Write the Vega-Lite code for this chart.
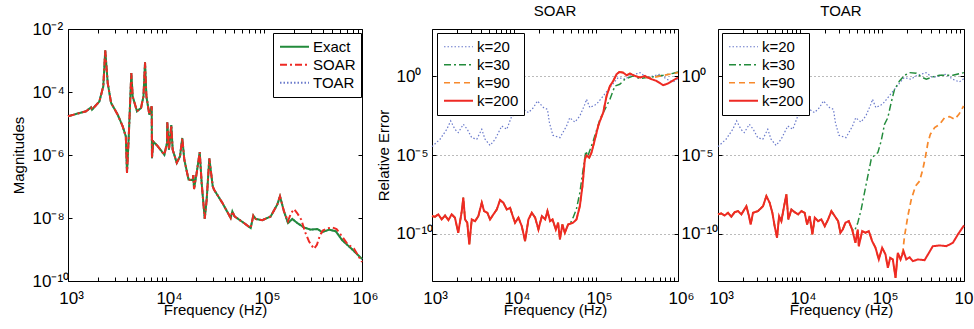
{
"$schema": "https://vega.github.io/schema/vega-lite/v6.json",
"background": "white",
"padding": {"left": 11, "top": 3, "right": 5, "bottom": 5},
"config": {
 "font": "Liberation Sans",
 "view": {"stroke": null},
 "axis": {"labelFont": "Liberation Sans", "labelFontSize": 17, "labelColor": "#000", "titleFont": "Liberation Sans", "titleFontSize": 15, "titleFontWeight": "normal", "titleColor": "#000", "tickColor": "#000", "domainColor": "#000", "domainWidth": 1, "tickWidth": 1, "grid": false},
 "legend": {"labelFont": "Liberation Sans", "labelFontSize": 15, "labelColor": "#000", "strokeColor": "#000", "fillColor": "#fff", "padding": 5, "symbolType": "stroke", "symbolSize": 841, "clipHeight": 17.5, "rowPadding": 0, "symbolOffset": 1, "labelOffset": 3},
 "title": {"font": "Liberation Sans", "fontSize": 15, "fontWeight": "normal", "color": "#000"}
},
"datasets": {
 "mag": [
  {"f":1000,"Exact":1.7e-5,"SOAR":1.7e-5,"TOAR":1.7e-5},
  {"f":1528,"Exact":2.45e-5,"SOAR":2.45e-5,"TOAR":2.45e-5},
  {"f":1718,"Exact":3.24e-5,"SOAR":3.24e-5,"TOAR":3.24e-5},
  {"f":1758,"Exact":2.75e-5,"SOAR":2.75e-5,"TOAR":2.75e-5},
  {"f":2089,"Exact":5.01e-5,"SOAR":5.01e-5,"TOAR":5.01e-5},
  {"f":2291,"Exact":1.51e-4,"SOAR":1.51e-4,"TOAR":1.51e-4},
  {"f":2399,"Exact":2.09e-3,"SOAR":2.09e-3,"TOAR":2.09e-3},
  {"f":2541,"Exact":1.95e-4,"SOAR":1.95e-4,"TOAR":1.95e-4},
  {"f":2754,"Exact":4.47e-5,"SOAR":4.47e-5,"TOAR":4.47e-5},
  {"f":3214,"Exact":1.91e-5,"SOAR":1.91e-5,"TOAR":1.91e-5},
  {"f":3614,"Exact":8.13e-6,"SOAR":8.13e-6,"TOAR":8.13e-6},
  {"f":3890,"Exact":3.89e-6,"SOAR":3.89e-6,"TOAR":3.89e-6},
  {"f":4000,"Exact":2.69e-7,"SOAR":2.69e-7,"TOAR":2.69e-7},
  {"f":4169,"Exact":3.89e-6,"SOAR":3.89e-6,"TOAR":3.89e-6},
  {"f":4426,"Exact":3.98e-4,"SOAR":3.98e-4,"TOAR":3.98e-4},
  {"f":4571,"Exact":7.24e-5,"SOAR":7.24e-5,"TOAR":7.24e-5},
  {"f":5058,"Exact":2.45e-5,"SOAR":2.45e-5,"TOAR":2.45e-5},
  {"f":5559,"Exact":3.09e-5,"SOAR":3.09e-5,"TOAR":3.09e-5},
  {"f":5888,"Exact":7.24e-5,"SOAR":7.24e-5,"TOAR":7.24e-5},
  {"f":6109,"Exact":8.71e-4,"SOAR":8.71e-4,"TOAR":8.71e-4},
  {"f":6310,"Exact":7.24e-5,"SOAR":7.24e-5,"TOAR":7.24e-5},
  {"f":6761,"Exact":1.91e-5,"SOAR":1.91e-5,"TOAR":1.91e-5},
  {"f":7145,"Exact":3.55e-5,"SOAR":3.55e-5,"TOAR":3.55e-5},
  {"f":7194,"Exact":7.94e-7,"SOAR":7.94e-7,"TOAR":7.94e-7},
  {"f":7413,"Exact":2.69e-6,"SOAR":2.69e-6,"TOAR":2.69e-6},
  {"f":8222,"Exact":1.91e-6,"SOAR":1.91e-6,"TOAR":1.91e-6},
  {"f":9616,"Exact":1.02e-6,"SOAR":1.02e-6,"TOAR":1.02e-6},
  {"f":10233,"Exact":2.4e-6,"SOAR":2.4e-6,"TOAR":2.4e-6},
  {"f":10304,"Exact":1.1e-5,"SOAR":1.1e-5,"TOAR":1.1e-5},
  {"f":10715,"Exact":1.48e-6,"SOAR":1.48e-6,"TOAR":1.48e-6},
  {"f":11324,"Exact":8.91e-6,"SOAR":8.91e-6,"TOAR":8.91e-6},
  {"f":11695,"Exact":1.48e-6,"SOAR":1.48e-6,"TOAR":1.48e-6},
  {"f":12882,"Exact":5.62e-7,"SOAR":5.62e-7,"TOAR":5.62e-7},
  {"f":13900,"Exact":9.12e-7,"SOAR":9.12e-7,"TOAR":9.12e-7},
  {"f":14655,"Exact":3.47e-6,"SOAR":3.47e-6,"TOAR":3.47e-6},
  {"f":15382,"Exact":7.08e-7,"SOAR":7.08e-7,"TOAR":7.08e-7},
  {"f":16982,"Exact":1.66e-7,"SOAR":1.66e-7,"TOAR":1.66e-7},
  {"f":18707,"Exact":1.58e-7,"SOAR":1.58e-7,"TOAR":1.58e-7},
  {"f":19011,"Exact":2.29e-7,"SOAR":2.29e-7,"TOAR":2.29e-7},
  {"f":19320,"Exact":8.32e-8,"SOAR":8.32e-8,"TOAR":8.32e-8},
  {"f":20559,"Exact":2.69e-7,"SOAR":2.69e-7,"TOAR":2.69e-7},
  {"f":22080,"Exact":1.23e-6,"SOAR":1.23e-6,"TOAR":1.23e-6},
  {"f":23121,"Exact":1.29e-7,"SOAR":1.29e-7,"TOAR":1.29e-7},
  {"f":24831,"Exact":9.55e-9,"SOAR":9.55e-9,"TOAR":9.55e-9},
  {"f":26002,"Exact":3.8e-8,"SOAR":3.8e-8,"TOAR":3.8e-8},
  {"f":27669,"Exact":7.76e-7,"SOAR":7.76e-7,"TOAR":7.76e-7},
  {"f":29992,"Exact":1.02e-7,"SOAR":1.02e-7,"TOAR":1.02e-7},
  {"f":30903,"Exact":7.94e-8,"SOAR":7.94e-8,"TOAR":7.94e-8},
  {"f":37584,"Exact":3.02e-8,"SOAR":3.02e-8,"TOAR":3.02e-8},
  {"f":45709,"Exact":1.0e-8,"SOAR":1.0e-8,"TOAR":1.0e-8},
  {"f":47534,"Exact":1.62e-8,"SOAR":1.62e-8,"TOAR":1.62e-8},
  {"f":50119,"Exact":1.12e-8,"SOAR":1.12e-8,"TOAR":1.12e-8},
  {"f":62517,"Exact":6.92e-9,"SOAR":6.92e-9,"TOAR":6.92e-9},
  {"f":73114,"Exact":4.79e-9,"SOAR":4.79e-9,"TOAR":4.79e-9},
  {"f":77804,"Exact":1.2e-8,"SOAR":1.2e-8,"TOAR":1.2e-8},
  {"f":82224,"Exact":9.33e-9,"SOAR":9.33e-9,"TOAR":9.33e-9},
  {"f":96161,"Exact":8.51e-9,"SOAR":8.51e-9,"TOAR":8.51e-9},
  {"f":116950,"Exact":1.12e-8,"SOAR":1.12e-8,"TOAR":1.12e-8},
  {"f":136770,"Exact":2.69e-8,"SOAR":2.69e-8,"TOAR":2.69e-8},
  {"f":145550,"Exact":4.9e-8,"SOAR":4.9e-8,"TOAR":4.9e-8},
  {"f":159950,"Exact":1.62e-8,"SOAR":1.62e-8,"TOAR":1.62e-8},
  {"f":175790,"Exact":6.92e-9,"SOAR":7.94e-9,"TOAR":6.92e-9},
  {"f":194540,"Exact":9.33e-9,"TOAR":9.33e-9},
  {"f":218780,"Exact":6.92e-9,"SOAR":1.41e-8,"TOAR":6.92e-9},
  {"f":255860,"Exact":5.01e-9,"TOAR":5.01e-9},
  {"f":299230,"Exact":4.27e-9,"TOAR":4.27e-9},
  {"f":349940,"Exact":4.47e-9,"TOAR":4.47e-9},
  {"f":393550,"Exact":3.55e-9,"TOAR":3.55e-9},
  {"f":460260,"Exact":4.27e-9,"TOAR":4.27e-9},
  {"f":539510,"Exact":3.8e-9,"TOAR":3.8e-9},
  {"f":629500,"Exact":1.95e-9,"TOAR":1.95e-9},
  {"f":767360,"Exact":1.12e-9,"TOAR":1.12e-9},
  {"f":1000000,"Exact":5.01e-10,"SOAR":3.98e-10,"TOAR":5.01e-10},
  {"f":188360,"SOAR":1.41e-8},
  {"f":202300,"SOAR":1.91e-8},
  {"f":239880,"SOAR":8.91e-9},
  {"f":263030,"SOAR":3.55e-9},
  {"f":288400,"SOAR":1.78e-9},
  {"f":323590,"SOAR":1.05e-9},
  {"f":346740,"SOAR":1.41e-9},
  {"f":372400,"SOAR":2.82e-9},
  {"f":398110,"SOAR":3.98e-9},
  {"f":436520,"SOAR":4.68e-9},
  {"f":501190,"SOAR":5.01e-9},
  {"f":549540,"SOAR":4.47e-9},
  {"f":630960,"SOAR":2.51e-9},
  {"f":707950,"SOAR":1.51e-9},
  {"f":831760,"SOAR":1.05e-9}
 ],
 "soar": [
  {"f":1000,"k=20":3.39e-5},{"f":1253,"k=20":1.0e-4},{"f":1514,"k=20":4.27e-4},{"f":1690,"k=20":1.45e-3},
  {"f":1905,"k=20":4.27e-4},{"f":2089,"k=20":2.63e-4},{"f":2410,"k=20":8.91e-4},{"f":2692,"k=20":4.27e-4},
  {"f":3055,"k=20":1.26e-4},{"f":3516,"k=20":1.0e-4},{"f":4046,"k=20":4.27e-4},{"f":4436,"k=20":1.0e-4},
  {"f":5105,"k=20":4.07e-5},{"f":5888,"k=20":1.0e-4},{"f":7096,"k=20":6.92e-4},{"f":8166,"k=20":4.27e-4},
  {"f":9397,"k=20":3.02e-3},{"f":11324,"k=20":3.8e-3},{"f":13032,"k=20":7.94e-3},{"f":14997,"k=20":4.9e-3},
  {"f":17258,"k=20":1.02e-2},{"f":19320,"k=20":2.69e-2},{"f":22909,"k=20":1.02e-2},{"f":25586,"k=20":7.94e-3},
  {"f":27040,"k=20":1.12e-3},{"f":29785,"k=20":1.78e-4},{"f":36308,"k=20":1.26e-4},{"f":43752,"k=20":6.92e-4},
  {"f":47863,"k=20":2.34e-3},{"f":55208,"k=20":1.23e-3},{"f":63533,"k=20":3.02e-3},{"f":73114,"k=20":1.66e-2},
  {"f":76560,"k=20":3.47e-2},{"f":84140,"k=20":1.02e-2},{"f":101390,"k=20":1.66e-2},{"f":122460,"k=20":5.62e-2},
  {"f":147910,"k=20":0.191},{"f":186640,"k=20":0.832},{"f":225420,"k=20":0.646},{"f":259420,"k=20":1.047},
  {"f":343560,"k=20":1.7},{"f":414000,"k=20":0.832},{"f":501190,"k=20":1.047},{"f":602560,"k=20":1.35},
  {"f":726110,"k=20":0.646},{"f":877000,"k=20":0.437},{"f":1000000,"k=20":0.708},
  {"f":1000,"k=30":1.32e-9,"k=90":1.32e-9,"k=200":1.32e-9},
  {"f":1089,"k=30":1.2e-9,"k=90":1.2e-9,"k=200":1.2e-9},
  {"f":1194,"k=30":1.7e-9,"k=90":1.7e-9,"k=200":1.7e-9},
  {"f":1312,"k=30":8.13e-10,"k=90":8.13e-10,"k=200":8.13e-10},
  {"f":1442,"k=30":1.45e-9,"k=90":1.45e-9,"k=200":1.45e-9},
  {"f":1585,"k=30":7.41e-10,"k=90":7.41e-10,"k=200":7.41e-10},
  {"f":1738,"k=30":1.7e-9,"k=90":1.7e-9,"k=200":1.7e-9},
  {"f":1905,"k=30":1.05e-9,"k=90":1.05e-9,"k=200":1.05e-9},
  {"f":2089,"k=30":1.15e-10,"k=90":1.15e-10,"k=200":1.15e-10},
  {"f":2307,"k=30":2.75e-9,"k=90":2.75e-9,"k=200":2.75e-9},
  {"f":2410,"k=30":1.95e-8,"k=90":1.95e-8,"k=200":1.95e-8},
  {"f":2529,"k=30":8.13e-10,"k=90":8.13e-10,"k=200":8.13e-10},
  {"f":2692,"k=30":5.01e-10,"k=90":5.01e-10,"k=200":5.01e-10},
  {"f":2851,"k=30":2.09e-11,"k=90":2.09e-11,"k=200":2.09e-11},
  {"f":3055,"k=30":8.13e-10,"k=90":8.13e-10,"k=200":8.13e-10},
  {"f":3350,"k=30":6.31e-10,"k=90":6.31e-10,"k=200":6.31e-10},
  {"f":3673,"k=30":1.32e-9,"k=90":1.32e-9,"k=200":1.32e-9},
  {"f":4046,"k=30":9.33e-9,"k=90":9.33e-9,"k=200":9.33e-9},
  {"f":4315,"k=30":2.75e-9,"k=90":2.75e-9,"k=200":2.75e-9},
  {"f":4732,"k=30":2.14e-9,"k=90":2.14e-9,"k=200":2.14e-9},
  {"f":5105,"k=30":8.13e-10,"k=90":8.13e-10,"k=200":8.13e-10},
  {"f":5610,"k=30":1.7e-9,"k=90":1.7e-9,"k=200":1.7e-9},
  {"f":6166,"k=30":3.47e-9,"k=90":3.47e-9,"k=200":3.47e-9},
  {"f":6761,"k=30":1.38e-8,"k=90":1.38e-8,"k=200":1.38e-8},
  {"f":7413,"k=30":9.33e-9,"k=90":9.33e-9,"k=200":9.33e-9},
  {"f":8166,"k=30":3.47e-9,"k=90":3.47e-9,"k=200":3.47e-9},
  {"f":8954,"k=30":4.47e-9,"k=90":4.47e-9,"k=200":4.47e-9},
  {"f":9661,"k=30":1.32e-9,"k=90":1.32e-9,"k=200":1.32e-9},
  {"f":10304,"k=30":5.01e-10,"k=90":5.01e-10,"k=200":5.01e-10},
  {"f":11324,"k=30":1.05e-9,"k=90":1.05e-9,"k=200":1.05e-9},
  {"f":12445,"k=30":3.02e-10,"k=90":3.02e-10,"k=200":3.02e-10},
  {"f":13646,"k=30":3.39e-11,"k=90":3.39e-11,"k=200":3.39e-11},
  {"f":14997,"k=30":8.13e-10,"k=90":8.13e-10,"k=200":8.13e-10},
  {"f":16482,"k=30":2.14e-9,"k=90":2.14e-9,"k=200":2.14e-9},
  {"f":18113,"k=30":1.05e-9,"k=90":1.05e-9,"k=200":1.05e-9},
  {"f":19861,"k=30":1.86e-10,"k=90":1.86e-10,"k=200":1.86e-10},
  {"f":21878,"k=30":1.32e-9,"k=90":1.32e-9,"k=200":1.32e-9},
  {"f":23988,"k=30":8.13e-10,"k=90":8.13e-10,"k=200":8.13e-10},
  {"f":25586,"k=30":2.75e-9,"k=90":2.75e-9,"k=200":2.75e-9},
  {"f":27542,"k=30":6.31e-10,"k=90":6.31e-10,"k=200":6.31e-10},
  {"f":29512,"k=30":8.13e-10,"k=90":8.13e-10,"k=200":8.13e-10},
  {"f":32359,"k=30":1.86e-10,"k=90":1.86e-10,"k=200":1.86e-10},
  {"f":34514,"k=30":5.01e-10,"k=90":5.01e-10,"k=200":5.01e-10},
  {"f":36308,"k=30":4.37e-11,"k=90":4.37e-11,"k=200":4.37e-11},
  {"f":38905,"k=30":3.89e-10,"k=90":3.89e-10,"k=200":3.89e-10},
  {"f":41687,"k=30":1.15e-10,"k=90":1.15e-10,"k=200":1.15e-10},
  {"f":45709,"k=30":3.89e-10,"k=90":3.89e-10,"k=200":3.89e-10},
  {"f":52481,"k=90":5.01e-10,"k=200":5.01e-10},
  {"f":57810,"k=90":8.13e-10,"k=200":8.13e-10},
  {"f":63533,"k=90":5.62e-9,"k=200":5.62e-9},
  {"f":68391,"k=90":1.07e-7,"k=200":1.07e-7},
  {"f":73114,"k=90":5.25e-6,"k=200":5.25e-6},
  {"f":76560,"k=90":9.55e-6,"k=200":9.55e-6},
  {"f":82604,"k=90":6.76e-6,"k=200":6.76e-6},
  {"f":88105,"k=90":1.41e-5,"k=200":1.41e-5},
  {"f":97051,"k=90":1.0e-4,"k=200":1.0e-4},
  {"f":106410,"k=90":6.92e-4,"k=200":6.92e-4},
  {"f":111690,"k=90":1.45e-3,"k=200":1.45e-3},
  {"f":122460,"k=90":4.9e-3,"k=200":4.9e-3},
  {"f":134590,"k=90":5.62e-2,"k=200":5.62e-2},
  {"f":147910,"k=90":0.24,"k=200":0.24},
  {"f":162180,"k=90":0.501,"k=200":0.501},
  {"f":178240,"k=90":1.35,"k=200":1.35},
  {"f":192310,"k=90":1.86,"k=200":1.86},
  {"f":214780,"k=90":1.7,"k=200":1.7},
  {"f":236050,"k=90":1.148,"k=200":1.148},
  {"f":259420,"k=90":1.48,"k=200":1.48},
  {"f":298540,"k=90":1.047,"k=200":1.047},
  {"f":343560,"k=200":0.832},
  {"f":395370,"k=200":1.047},
  {"f":454990,"k=200":0.708},
  {"f":548280,"k=200":0.501},
  {"f":660690,"k=200":0.269},
  {"f":762080,"k=200":0.355},
  {"f":918410,"k=200":0.646},
  {"f":1000000,"k=200":0.832},
  {"f":47863,"k=30":3.89e-10},{"f":52481,"k=30":1.05e-9},{"f":57544,"k=30":3.47e-9},{"f":63533,"k=30":3.98e-8},
  {"f":69663,"k=30":1.23e-6},{"f":75162,"k=30":1.78e-5},{"f":79433,"k=30":8.51e-6},{"f":92470,"k=30":7.76e-5},
  {"f":111690,"k=30":1.86e-3},{"f":128530,"k=30":7.94e-3},{"f":147910,"k=30":3.47e-2},{"f":169820,"k=30":0.24},
  {"f":194980,"k=30":0.309},{"f":225420,"k=30":0.646},{"f":284450,"k=30":1.047},{"f":343560,"k=30":0.708},
  {"f":414000,"k=30":0.832},{"f":501190,"k=30":0.912},{"f":660690,"k=30":1.148},{"f":877000,"k=30":1.55},
  {"f":1000000,"k=30":1.86},
  {"f":354810,"k=90":0.832},{"f":501190,"k=90":0.832},{"f":660690,"k=90":1.148},{"f":870960,"k=90":1.48},
  {"f":1000000,"k=90":1.7}
 ],
 "toar": [
  {"f":1000,"k=20":3.39e-5},{"f":1253,"k=20":1.0e-4},{"f":1514,"k=20":4.27e-4},{"f":1690,"k=20":1.45e-3},
  {"f":1905,"k=20":4.27e-4},{"f":2089,"k=20":2.63e-4},{"f":2410,"k=20":8.91e-4},{"f":2692,"k=20":4.27e-4},
  {"f":3055,"k=20":1.26e-4},{"f":3516,"k=20":1.0e-4},{"f":4046,"k=20":4.27e-4},{"f":4436,"k=20":1.0e-4},
  {"f":5105,"k=20":4.07e-5},{"f":5888,"k=20":1.0e-4},{"f":7096,"k=20":6.92e-4},{"f":8166,"k=20":4.27e-4},
  {"f":9397,"k=20":3.02e-3},{"f":11324,"k=20":3.8e-3},{"f":13032,"k=20":7.94e-3},{"f":14997,"k=20":4.9e-3},
  {"f":17258,"k=20":1.02e-2},{"f":19320,"k=20":2.69e-2},{"f":22909,"k=20":1.02e-2},{"f":25586,"k=20":7.94e-3},
  {"f":27040,"k=20":1.12e-3},{"f":29785,"k=20":1.78e-4},{"f":36308,"k=20":1.26e-4},{"f":43752,"k=20":6.92e-4},
  {"f":47863,"k=20":2.34e-3},{"f":55208,"k=20":1.23e-3},{"f":63533,"k=20":3.02e-3},{"f":73114,"k=20":1.66e-2},
  {"f":76560,"k=20":3.47e-2},{"f":84140,"k=20":1.02e-2},{"f":101390,"k=20":1.66e-2},{"f":122460,"k=20":5.62e-2},
  {"f":147910,"k=20":0.191},{"f":186640,"k=20":0.832},{"f":225420,"k=20":0.646},{"f":259420,"k=20":1.047},
  {"f":343560,"k=20":1.7},{"f":414000,"k=20":0.832},{"f":501190,"k=20":1.047},{"f":602560,"k=20":1.35},
  {"f":726110,"k=20":0.646},{"f":877000,"k=20":0.437},{"f":1000000,"k=20":0.708},
  {"f":1000,"k=30":1.7e-9,"k=90":1.7e-9,"k=200":1.7e-9},
  {"f":1096,"k=30":1.95e-9,"k=90":1.95e-9,"k=200":1.95e-9},
  {"f":1205,"k=30":1.45e-9,"k=90":1.45e-9,"k=200":1.45e-9},
  {"f":1324,"k=30":2.14e-9,"k=90":2.14e-9,"k=200":2.14e-9},
  {"f":1452,"k=30":1.2e-9,"k=90":1.2e-9,"k=200":1.2e-9},
  {"f":1596,"k=30":2.34e-9,"k=90":2.34e-9,"k=200":2.34e-9},
  {"f":1754,"k=30":2.75e-9,"k=90":2.75e-9,"k=200":2.75e-9},
  {"f":1928,"k=30":1.7e-9,"k=90":1.7e-9,"k=200":1.7e-9},
  {"f":2218,"k=30":5.62e-9,"k=90":5.62e-9,"k=200":5.62e-9},
  {"f":2388,"k=30":1.32e-9,"k=90":1.32e-9,"k=200":1.32e-9},
  {"f":2500,"k=30":3.89e-10,"k=90":3.89e-10,"k=200":3.89e-10},
  {"f":2673,"k=30":2.14e-9,"k=90":2.14e-9,"k=200":2.14e-9},
  {"f":3076,"k=30":2.75e-9,"k=90":2.75e-9,"k=200":2.75e-9},
  {"f":3540,"k=30":5.62e-9,"k=90":5.62e-9,"k=200":5.62e-9},
  {"f":3890,"k=30":2.45e-8,"k=90":2.45e-8,"k=200":2.45e-8},
  {"f":4266,"k=30":9.33e-9,"k=90":9.33e-9,"k=200":9.33e-9},
  {"f":4603,"k=30":2.14e-9,"k=90":2.14e-9,"k=200":2.14e-9},
  {"f":4909,"k=30":3.02e-10,"k=90":3.02e-10,"k=200":3.02e-10},
  {"f":5248,"k=30":5.62e-11,"k=90":5.62e-11,"k=200":5.62e-11},
  {"f":5559,"k=30":1.32e-9,"k=90":1.32e-9,"k=200":1.32e-9},
  {"f":5929,"k=30":6.31e-10,"k=90":6.31e-10,"k=200":6.31e-10},
  {"f":6397,"k=30":5.62e-9,"k=90":5.62e-9,"k=200":5.62e-9},
  {"f":6823,"k=30":3.16e-8,"k=90":3.16e-8,"k=200":3.16e-8},
  {"f":7211,"k=30":8.13e-10,"k=90":8.13e-10,"k=200":8.13e-10},
  {"f":7852,"k=30":3.47e-9,"k=90":3.47e-9,"k=200":3.47e-9},
  {"f":8610,"k=30":2.34e-9,"k=90":2.34e-9,"k=200":2.34e-9},
  {"f":9484,"k=30":1.7e-9,"k=90":1.7e-9,"k=200":1.7e-9},
  {"f":10399,"k=30":2.75e-9,"k=90":2.75e-9,"k=200":2.75e-9},
  {"f":11402,"k=30":2.14e-9,"k=90":2.14e-9,"k=200":2.14e-9},
  {"f":12218,"k=30":3.89e-10,"k=90":3.89e-10,"k=200":3.89e-10},
  {"f":13122,"k=30":1.32e-9,"k=90":1.32e-9,"k=200":1.32e-9},
  {"f":14158,"k=30":9.12e-11,"k=90":9.12e-11,"k=200":9.12e-11},
  {"f":15136,"k=30":1.05e-9,"k=90":1.05e-9,"k=200":1.05e-9},
  {"f":16634,"k=30":6.31e-10,"k=90":6.31e-10,"k=200":6.31e-10},
  {"f":18239,"k=30":8.13e-10,"k=90":8.13e-10,"k=200":8.13e-10},
  {"f":20045,"k=30":3.02e-10,"k=90":3.02e-10,"k=200":3.02e-10},
  {"f":22029,"k=30":8.13e-10,"k=90":8.13e-10,"k=200":8.13e-10},
  {"f":24155,"k=30":2.75e-9,"k=90":2.75e-9,"k=200":2.75e-9},
  {"f":26546,"k=30":1.32e-9,"k=90":1.32e-9,"k=200":1.32e-9},
  {"f":29174,"k=30":6.31e-10,"k=90":6.31e-10,"k=200":6.31e-10},
  {"f":31117,"k=30":1.15e-10,"k=90":1.15e-10,"k=200":1.15e-10},
  {"f":33189,"k=30":1.86e-10,"k=90":1.86e-10,"k=200":1.86e-10},
  {"f":35810,"k=30":5.01e-10,"k=90":5.01e-10,"k=200":5.01e-10},
  {"f":39355,"k=30":6.31e-10,"k=90":6.31e-10,"k=200":6.31e-10},
  {"f":43251,"k=30":1.86e-10,"k=90":1.86e-10,"k=200":1.86e-10},
  {"f":47424,"k=90":2.69e-11,"k=200":2.69e-11},
  {"f":50699,"k=90":1.86e-10,"k=200":1.86e-10},
  {"f":52119,"k=90":1.62e-11,"k=200":1.62e-11},
  {"f":57280,"k=90":1.48e-10,"k=200":1.48e-10},
  {"f":62806,"k=90":1.15e-10,"k=200":1.15e-10},
  {"f":69024,"k=90":1.48e-10,"k=200":1.48e-10},
  {"f":75858,"k=90":3.39e-11,"k=200":3.39e-11},
  {"f":83368,"k=90":1.29e-11,"k=200":1.29e-11},
  {"f":91411,"k=90":2.34e-12,"k=200":2.34e-12},
  {"f":100460,"k=90":1.29e-11,"k=200":1.29e-11},
  {"f":110410,"k=90":4.79e-12,"k=200":4.79e-12},
  {"f":117760,"k=90":6.92e-13,"k=200":6.92e-13},
  {"f":125890,"k=90":2.95e-12,"k=200":2.95e-12},
  {"f":135520,"k=90":2.34e-12,"k=200":2.34e-12},
  {"f":146220,"k=90":1.58e-13,"k=200":1.58e-13},
  {"f":155960,"k=90":6.17e-12,"k=200":6.17e-12},
  {"f":168270,"k=90":2.34e-12,"k=200":2.34e-12},
  {"f":183230,"k=200":7.76e-12},
  {"f":197700,"k=200":2.34e-12},
  {"f":216770,"k=200":3.24e-12},
  {"f":238230,"k=200":1.82e-12},
  {"f":273530,"k=200":2.34e-12},
  {"f":330370,"k=200":2.09e-12},
  {"f":363080,"k=200":4.79e-12},
  {"f":416870,"k=200":1.62e-11},
  {"f":503500,"k=200":1.82e-11},
  {"f":608130,"k=200":1.62e-11},
  {"f":732825,"k=200":2.69e-11},
  {"f":843335,"k=200":9.12e-11},
  {"f":1000000,"k=200":3.39e-10},
  {"f":46238,"k=30":1.48e-10},{"f":50699,"k=30":5.01e-10},{"f":55719,"k=30":3.47e-9},{"f":61094,"k=30":3.98e-8},
  {"f":67143,"k=30":4.57e-7},{"f":73790,"k=30":5.25e-6},{"f":80910,"k=30":9.55e-6},{"f":88920,"k=30":1.41e-5},
  {"f":97724,"k=30":7.76e-5},{"f":107400,"k=30":8.91e-4},{"f":117760,"k=30":2.34e-3},{"f":129420,"k=30":2.14e-2},
  {"f":142230,"k=30":0.148},{"f":163680,"k=30":0.501},{"f":188360,"k=30":1.148},{"f":216770,"k=30":1.7},
  {"f":261820,"k=30":1.55},{"f":301300,"k=30":0.912},{"f":346740,"k=30":0.646},{"f":416870,"k=30":0.912},
  {"f":503500,"k=30":1.148},{"f":732825,"k=30":1.148},{"f":1000000,"k=30":1.7},
  {"f":179470,"k=90":7.76e-12},{"f":188360,"k=90":7.08e-11},{"f":206540,"k=90":1.32e-9},{"f":227510,"k=90":1.51e-8},
  {"f":256450,"k=90":1.07e-7},{"f":287080,"k=90":2.19e-7},{"f":314770,"k=90":1.23e-6},{"f":339620,"k=90":8.51e-6},
  {"f":363080,"k=90":6.03e-5},{"f":388150,"k=90":2.04e-4},{"f":438530,"k=90":5.5e-4},{"f":503500,"k=90":8.91e-4},
  {"f":579400,"k=90":2.34e-3},{"f":666810,"k=90":2.75e-3},{"f":767360,"k=90":1.86e-3},{"f":866960,"k=90":3.8e-3},
  {"f":988550,"k=90":1.29e-2}
 ]
},
"spacing": 40,
"bounds": "flush",
"resolve": {"scale": {"x": "independent", "y": "independent", "color": "independent", "strokeDash": "independent", "strokeWidth": "independent"}, "legend": {"color": "independent", "strokeDash": "independent", "strokeWidth": "independent"}},
"hconcat": [
 {
  "width": 324, "height": 252,
  "data": {"name": "mag"},
  "transform": [{"fold": ["Exact", "SOAR", "TOAR"], "as": ["series", "v"]}, {"filter": "isValid(datum.v)"}],
  "encoding": {
   "color": {"field": "series", "type": "nominal", "scale": {"domain": ["Exact", "SOAR", "TOAR"], "range": ["#228b3b", "#ee2a24", "#6a7acb"]}, "legend": {"title": null, "orient": "none", "legendX": 205, "legendY": 4}},
   "strokeDash": {"field": "series", "type": "nominal", "scale": {"domain": ["Exact", "SOAR", "TOAR"], "range": [[1, 0], [7, 3, 2, 3], [1.5, 2]]}, "legend": {"title": null, "orient": "none", "legendX": 205, "legendY": 4}},
   "strokeWidth": {"field": "series", "type": "nominal", "scale": {"domain": ["Exact", "SOAR", "TOAR"], "range": [2, 2, 1.2]}, "legend": {"title": null, "orient": "none", "legendX": 205, "legendY": 4}}
  },
  "layer": [
   {"transform": [{"filter": "datum.series === 'TOAR'"}], "mark": {"type": "line"},
    "encoding": {
     "x": {"field": "f", "type": "quantitative", "scale": {"type": "log", "domain": [1000, 1000000], "range": [0, 294], "nice": false},
      "axis": {"orient": "bottom", "values": [1000,2000,3000,4000,5000,6000,7000,8000,9000,10000,20000,30000,40000,50000,60000,70000,80000,90000,100000,200000,300000,400000,500000,600000,700000,800000,900000,1000000], "labelExpr": "datum.value===1000?'10³':datum.value===10000?'10⁴':datum.value===100000?'10⁵':datum.value===1000000?'10⁶':''", "title": "Frequency (Hz)", "tickSize": -4, "labelPadding": 13, "labelFlush": false, "labelOverlap": false, "labelOffset": 3, "titlePadding": -4}},
     "y": {"field": "v", "type": "quantitative", "scale": {"type": "log", "domain": [1e-10, 1e-2], "nice": false},
      "axis": {"orient": "left", "values": [1e-10, 1e-8, 1e-6, 1e-4, 1e-2], "labelExpr": "datum.value===0.01?'10⁻²':datum.value===0.0001?'10⁻⁴':datum.value===0.000001?'10⁻⁶':datum.value===1e-8?'10⁻⁸':'10⁻¹⁰'", "title": "Magnitudes", "tickSize": -4, "labelPadding": 40, "labelAlign": "left", "labelBaseline": "middle", "labelFlush": false, "labelOverlap": false, "titlePadding": 6}}
    }},
   {"transform": [{"filter": "datum.series === 'Exact'"}], "mark": {"type": "line"},
    "encoding": {
     "x": {"field": "f", "type": "quantitative", "scale": {"type": "log", "domain": [1000, 1000000], "range": [0, 294], "nice": false},
      "axis": {"orient": "top", "values": [1000,2000,3000,4000,5000,6000,7000,8000,9000,10000,20000,30000,40000,50000,60000,70000,80000,90000,100000,200000,300000,400000,500000,600000,700000,800000,900000,1000000], "labels": false, "title": null, "tickSize": -4, "minExtent": 0, "maxExtent": 0}},
     "y": {"field": "v", "type": "quantitative", "scale": {"type": "log", "domain": [1e-10, 1e-2], "nice": false},
      "axis": {"orient": "right", "values": [1e-10, 1e-8, 1e-6, 1e-4, 1e-2], "labels": false, "title": null, "tickSize": -4, "offset": -30, "minExtent": 0, "maxExtent": 0}}
    }},
   {"transform": [{"filter": "datum.series === 'SOAR'"}], "mark": {"type": "line"},
    "encoding": {
     "x": {"field": "f", "type": "quantitative", "scale": {"type": "log", "domain": [1000, 1000000], "range": [0, 294], "nice": false}, "axis": null},
     "y": {"field": "v", "type": "quantitative", "scale": {"type": "log", "domain": [1e-10, 1e-2], "nice": false}, "axis": null}
    }}
  ],
  "resolve": {"axis": {"x": "independent", "y": "independent"}}
 },
 {
  "width": 246, "height": 252,
  "title": {"text": "SOAR", "offset": -2, "baseline": "alphabetic"},
  "data": {"name": "soar"},
  "transform": [{"fold": ["k=20", "k=30", "k=90", "k=200"], "as": ["series", "v"]}, {"filter": "isValid(datum.v)"}],
  "encoding": {
   "color": {"field": "series", "type": "nominal", "scale": {"domain": ["k=20", "k=30", "k=90", "k=200"], "range": ["#6a7acb", "#228b3b", "#f7892c", "#ee2a24"]}, "legend": {"title": null, "orient": "none", "legendX": 5, "legendY": 4}},
   "strokeDash": {"field": "series", "type": "nominal", "scale": {"domain": ["k=20", "k=30", "k=90", "k=200"], "range": [[1.5, 2], [7, 3, 2, 3], [6, 4], [1, 0]]}, "legend": {"title": null, "orient": "none", "legendX": 5, "legendY": 4}},
   "strokeWidth": {"field": "series", "type": "nominal", "scale": {"domain": ["k=20", "k=30", "k=90", "k=200"], "range": [1.2, 2, 2, 2]}, "legend": {"title": null, "orient": "none", "legendX": 5, "legendY": 4}}
  },
  "layer": [
   {"transform": [{"filter": "datum.series === 'k=20'"}], "mark": {"type": "line"},
    "encoding": {
     "x": {"field": "f", "type": "quantitative", "scale": {"type": "log", "domain": [1000, 1000000], "nice": false},
      "axis": {"orient": "bottom", "values": [1000,2000,3000,4000,5000,6000,7000,8000,9000,10000,20000,30000,40000,50000,60000,70000,80000,90000,100000,200000,300000,400000,500000,600000,700000,800000,900000,1000000], "labelExpr": "datum.value===1000?'10³':datum.value===10000?'10⁴':datum.value===100000?'10⁵':datum.value===1000000?'10⁶':''", "title": "Frequency (Hz)", "tickSize": -4, "labelPadding": 13, "labelFlush": false, "labelOverlap": false, "labelOffset": 3, "titlePadding": -4}},
     "y": {"field": "v", "type": "quantitative", "scale": {"type": "log", "domain": [1e-13, 1000], "nice": false},
      "axis": {"orient": "left", "values": [1e-10, 1e-5, 1], "labelExpr": "datum.value===1?'10⁰':datum.value===0.00001?'10⁻⁵':'10⁻¹⁰'", "title": "Relative Error", "tickSize": -4, "labelPadding": 40, "labelAlign": "left", "labelBaseline": "middle", "labelFlush": false, "labelOverlap": false, "titlePadding": 5, "grid": true, "gridDash": [1, 3], "gridColor": "#777777", "gridWidth": 1}}
    }},
   {"transform": [{"filter": "datum.series === 'k=30'"}], "mark": {"type": "line"},
    "encoding": {
     "x": {"field": "f", "type": "quantitative", "scale": {"type": "log", "domain": [1000, 1000000], "nice": false},
      "axis": {"orient": "top", "values": [1000,2000,3000,4000,5000,6000,7000,8000,9000,10000,20000,30000,40000,50000,60000,70000,80000,90000,100000,200000,300000,400000,500000,600000,700000,800000,900000,1000000], "labels": false, "title": null, "tickSize": -4, "minExtent": 0, "maxExtent": 0}},
     "y": {"field": "v", "type": "quantitative", "scale": {"type": "log", "domain": [1e-13, 1000], "nice": false},
      "axis": {"orient": "right", "values": [1e-10, 1e-5, 1], "labels": false, "title": null, "tickSize": -4, "minExtent": 0, "maxExtent": 0}}
    }},
   {"transform": [{"filter": "datum.series === 'k=90'"}], "mark": {"type": "line"},
    "encoding": {
     "x": {"field": "f", "type": "quantitative", "scale": {"type": "log", "domain": [1000, 1000000], "nice": false}, "axis": null},
     "y": {"field": "v", "type": "quantitative", "scale": {"type": "log", "domain": [1e-13, 1000], "nice": false}, "axis": null}
    }},
   {"transform": [{"filter": "datum.series === 'k=200'"}], "mark": {"type": "line"},
    "encoding": {
     "x": {"field": "f", "type": "quantitative", "scale": {"type": "log", "domain": [1000, 1000000], "nice": false}, "axis": null},
     "y": {"field": "v", "type": "quantitative", "scale": {"type": "log", "domain": [1e-13, 1000], "nice": false}, "axis": null}
    }}
  ],
  "resolve": {"axis": {"x": "independent", "y": "independent"}}
 },
 {
  "width": 246, "height": 252,
  "title": {"text": "TOAR", "offset": -2, "baseline": "alphabetic"},
  "data": {"name": "toar"},
  "transform": [{"fold": ["k=20", "k=30", "k=90", "k=200"], "as": ["series", "v"]}, {"filter": "isValid(datum.v)"}],
  "encoding": {
   "color": {"field": "series", "type": "nominal", "scale": {"domain": ["k=20", "k=30", "k=90", "k=200"], "range": ["#6a7acb", "#228b3b", "#f7892c", "#ee2a24"]}, "legend": {"title": null, "orient": "none", "legendX": 4, "legendY": 4}},
   "strokeDash": {"field": "series", "type": "nominal", "scale": {"domain": ["k=20", "k=30", "k=90", "k=200"], "range": [[1.5, 2], [7, 3, 2, 3], [6, 4], [1, 0]]}, "legend": {"title": null, "orient": "none", "legendX": 4, "legendY": 4}},
   "strokeWidth": {"field": "series", "type": "nominal", "scale": {"domain": ["k=20", "k=30", "k=90", "k=200"], "range": [1.2, 2, 2, 2]}, "legend": {"title": null, "orient": "none", "legendX": 4, "legendY": 4}}
  },
  "layer": [
   {"transform": [{"filter": "datum.series === 'k=20'"}], "mark": {"type": "line"},
    "encoding": {
     "x": {"field": "f", "type": "quantitative", "scale": {"type": "log", "domain": [1000, 1000000], "nice": false},
      "axis": {"orient": "bottom", "values": [1000,2000,3000,4000,5000,6000,7000,8000,9000,10000,20000,30000,40000,50000,60000,70000,80000,90000,100000,200000,300000,400000,500000,600000,700000,800000,900000,1000000], "labelExpr": "datum.value===1000?'10³':datum.value===10000?'10⁴':datum.value===100000?'10⁵':datum.value===1000000?'10⁶':''", "title": "Frequency (Hz)", "tickSize": -4, "labelPadding": 13, "labelFlush": false, "labelOverlap": false, "labelOffset": 3, "titlePadding": -4}},
     "y": {"field": "v", "type": "quantitative", "scale": {"type": "log", "domain": [1e-13, 1000], "nice": false},
      "axis": {"orient": "left", "values": [1e-10, 1e-5, 1], "labelExpr": "datum.value===1?'10⁰':datum.value===0.00001?'10⁻⁵':'10⁻¹⁰'", "title": null, "tickSize": -4, "labelPadding": 41, "labelAlign": "left", "labelBaseline": "middle", "labelFlush": false, "labelOverlap": false, "grid": true, "gridDash": [1, 3], "gridColor": "#777777", "gridWidth": 1}}
    }},
   {"transform": [{"filter": "datum.series === 'k=30'"}], "mark": {"type": "line"},
    "encoding": {
     "x": {"field": "f", "type": "quantitative", "scale": {"type": "log", "domain": [1000, 1000000], "nice": false},
      "axis": {"orient": "top", "values": [1000,2000,3000,4000,5000,6000,7000,8000,9000,10000,20000,30000,40000,50000,60000,70000,80000,90000,100000,200000,300000,400000,500000,600000,700000,800000,900000,1000000], "labels": false, "title": null, "tickSize": -4, "minExtent": 0, "maxExtent": 0}},
     "y": {"field": "v", "type": "quantitative", "scale": {"type": "log", "domain": [1e-13, 1000], "nice": false},
      "axis": {"orient": "right", "values": [1e-10, 1e-5, 1], "labels": false, "title": null, "tickSize": -4, "minExtent": 0, "maxExtent": 0}}
    }},
   {"transform": [{"filter": "datum.series === 'k=90'"}], "mark": {"type": "line"},
    "encoding": {
     "x": {"field": "f", "type": "quantitative", "scale": {"type": "log", "domain": [1000, 1000000], "nice": false}, "axis": null},
     "y": {"field": "v", "type": "quantitative", "scale": {"type": "log", "domain": [1e-13, 1000], "nice": false}, "axis": null}
    }},
   {"transform": [{"filter": "datum.series === 'k=200'"}], "mark": {"type": "line"},
    "encoding": {
     "x": {"field": "f", "type": "quantitative", "scale": {"type": "log", "domain": [1000, 1000000], "nice": false}, "axis": null},
     "y": {"field": "v", "type": "quantitative", "scale": {"type": "log", "domain": [1e-13, 1000], "nice": false}, "axis": null}
    }}
  ],
  "resolve": {"axis": {"x": "independent", "y": "independent"}}
 }
]
}
